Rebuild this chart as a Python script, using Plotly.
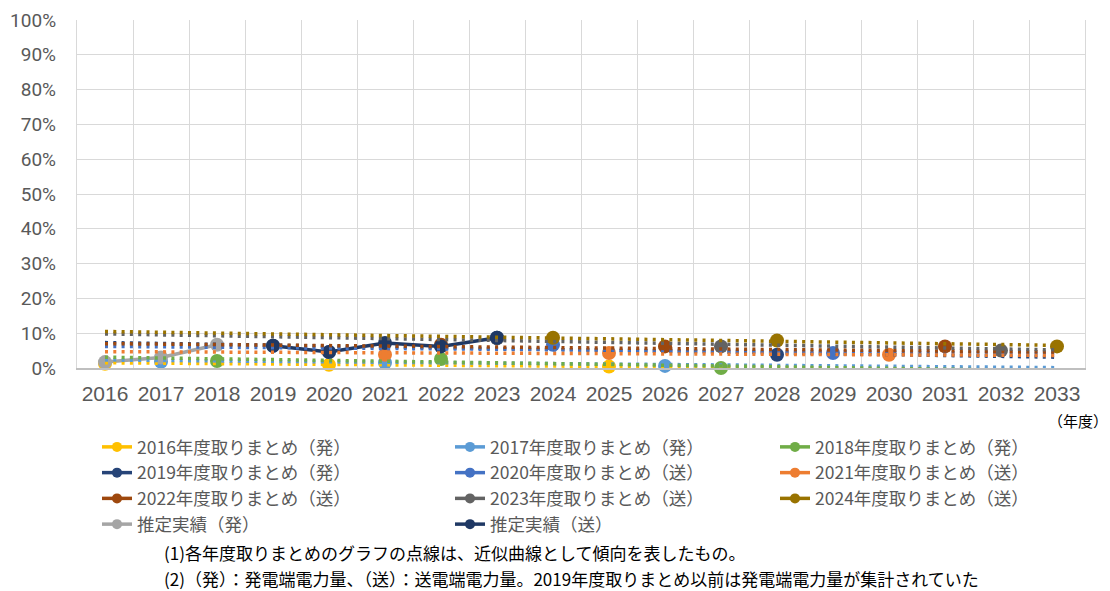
import plotly.graph_objects as go

# ---------------- data (values in %) ----------------
years = list(range(2016, 2034))

tm_names = [
    "2016年度取りまとめ（発）", "2017年度取りまとめ（発）", "2018年度取りまとめ（発）",
    "2019年度取りまとめ（発）", "2020年度取りまとめ（送）", "2021年度取りまとめ（送）",
    "2022年度取りまとめ（送）", "2023年度取りまとめ（送）", "2024年度取りまとめ（送）",
]
# each summary: values at 1st, 5th and 10th year
tm_x_2016 = [2016, 2020, 2025]; tm_y_2016 = [1.2, 0.9, 0.4]
tm_x_2017 = [2017, 2021, 2026]; tm_y_2017 = [1.8, 1.5, 0.6]
tm_x_2018 = [2018, 2022, 2027]; tm_y_2018 = [2.0, 2.6, 0.0]
tm_x_2019 = [2019, 2023, 2028]; tm_y_2019 = [6.4, 8.7, 3.8]
tm_x_2020 = [2020, 2024, 2029]; tm_y_2020 = [4.6, 6.7, 4.3]
tm_x_2021 = [2021, 2025, 2030]; tm_y_2021 = [3.8, 4.3, 3.8]
tm_x_2022 = [2022, 2026, 2031]; tm_y_2022 = [6.7, 6.2, 6.2]
tm_x_2023 = [2023, 2027, 2032]; tm_y_2023 = [8.5, 6.2, 5.0]
tm_x_2024 = [2024, 2028, 2033]; tm_y_2024 = [8.7, 7.9, 6.2]

# approximate (dotted) trend lines: value at 2016 and at 2033
trend_x = [2016, 2033]
trend_start = [1.5, 2.3, 3.1, 7.3, 6.2, 4.7, 7.0, 9.8, 10.5]
trend_end = [-0.5, 0.1, -0.8, 3.1, 4.2, 3.6, 4.6, 5.2, 6.5]

est_hatsu_name = "推定実績（発）"
est_hatsu_x = [2016, 2017, 2018]
est_hatsu_y = [1.7, 3.0, 6.7]
est_sou_name = "推定実績（送）"
est_sou_x = [2019, 2020, 2021, 2022, 2023]
est_sou_y = [6.4, 4.6, 7.2, 6.2, 8.7]

footnote1 = "(1)各年度取りまとめのグラフの点線は、近似曲線として傾向を表したもの。"
footnote2 = "(2)（発）：発電端電力量、（送）：送電端電力量。2019年度取りまとめ以前は発電端電力量が集計されていた"
unit_label = "（年度）"

# ---------------- styles ----------------
tm_colors = ["#FFC000", "#5B9BD5", "#70AD47", "#264478", "#4472C4",
             "#ED7D31", "#9E480E", "#636363", "#997300"]
est_hatsu_color = "#A5A5A5"
est_sou_color = "#1F3864"

tm_xs = [tm_x_2016, tm_x_2017, tm_x_2018, tm_x_2019, tm_x_2020,
         tm_x_2021, tm_x_2022, tm_x_2023, tm_x_2024]
tm_ys = [tm_y_2016, tm_y_2017, tm_y_2018, tm_y_2019, tm_y_2020,
         tm_y_2021, tm_y_2022, tm_y_2023, tm_y_2024]

W, H = 1110, 591
L, R, T, B = 77, 25, 20, 223
pw, ph = W - L - R, H - T - B


def px_x(p):
    return (p - L) / pw


def px_y(p):
    return (H - B - p) / ph


text_color = "#595959"
grid_color = "#D9D9D9"
cjk = "Noto Sans CJK JP"

fig = go.Figure()

# summary markers
for name, xs, ys, c in zip(tm_names, tm_xs, tm_ys, tm_colors):
    fig.add_trace(go.Scatter(
        x=xs, y=[v / 100 for v in ys], mode="markers", name=name,
        marker=dict(size=14, color=c), showlegend=False, cliponaxis=False))

# estimated actuals
fig.add_trace(go.Scatter(
    x=est_hatsu_x, y=[v / 100 for v in est_hatsu_y], mode="lines+markers",
    name=est_hatsu_name, line=dict(color=est_hatsu_color, width=3.5),
    marker=dict(size=14, color=est_hatsu_color), showlegend=False, cliponaxis=False))
fig.add_trace(go.Scatter(
    x=est_sou_x, y=[v / 100 for v in est_sou_y], mode="lines+markers",
    name=est_sou_name, line=dict(color=est_sou_color, width=3.5),
    marker=dict(size=14, color=est_sou_color), showlegend=False, cliponaxis=False))

# dotted trend lines (drawn on top)
for name, s, e, c in zip(tm_names, trend_start, trend_end, tm_colors):
    fig.add_trace(go.Scatter(
        x=trend_x, y=[s / 100, e / 100], mode="lines",
        line=dict(color=c, width=3.5, dash="3px,5.3px"),
        showlegend=False, hoverinfo="skip"))

# legend entries, laid out in three columns (one legend per column)
legend_ids = ["legend", "legend2", "legend3"]
all_names = tm_names + [est_hatsu_name, est_sou_name]
all_colors = tm_colors + [est_hatsu_color, est_sou_color]
for i, (name, c) in enumerate(zip(all_names, all_colors)):
    fig.add_trace(go.Scatter(x=[None], y=[None], mode="lines+markers", name=name,
                             legend=legend_ids[i % 3],
                             line=dict(color=c, width=3.5), marker=dict(size=10, color=c)))

legend_common = dict(
    orientation="v", xanchor="left", y=px_y(429), yanchor="top",
    font=dict(family=cjk, size=17.5, color=text_color),
    bgcolor="rgba(0,0,0,0)", tracegroupgap=0, itemwidth=30,
)

fig.update_layout(
    width=W, height=H,
    margin=dict(l=L, r=R, t=T, b=B, autoexpand=False),
    paper_bgcolor="white", plot_bgcolor="white",
    font=dict(family=cjk, color=text_color),
    showlegend=True,
    legend=dict(x=px_x(97), **legend_common),
    legend2=dict(x=px_x(450), **legend_common),
    legend3=dict(x=px_x(775), **legend_common),
    xaxis=dict(
        type="linear", range=[2015.5, 2033.5],
        tickmode="array", tickvals=years, ticktext=[str(y) for y in years],
        showgrid=False, zeroline=False,
        showline=True, linecolor="#BFBFBF", linewidth=2,
        ticks="", ticklabelstandoff=6,
        tickfont=dict(family="Liberation Sans", size=21, color=text_color),
        minor=dict(tick0=2015.5, dtick=1, showgrid=True, gridcolor=grid_color, gridwidth=1.3),
    ),
    yaxis=dict(
        range=[0, 1], dtick=0.1, tickformat=".0%",
        showgrid=True, gridcolor=grid_color, gridwidth=1.3, zeroline=False,
        showline=True, linecolor=grid_color, linewidth=1.3, mirror=True,
        ticks="", ticklabelstandoff=16,
        tickfont=dict(family="Roboto", size=19, color=text_color),
    ),
    annotations=[
        dict(text=unit_label, xref="paper", yref="paper", x=px_x(1110), y=px_y(420),
             xanchor="right", yanchor="middle", showarrow=False,
             font=dict(family=cjk, size=15, color="#000000")),
        dict(text=footnote1, xref="paper", yref="paper", x=px_x(162), y=px_y(552),
             xanchor="left", yanchor="middle", showarrow=False,
             font=dict(family=cjk, size=17, color="#000000")),
        dict(text=footnote2, xref="paper", yref="paper", x=px_x(162), y=px_y(578),
             xanchor="left", yanchor="middle", showarrow=False,
             font=dict(family=cjk, size=17, color="#000000")),
    ],
)

fig.write_html("out.html")
